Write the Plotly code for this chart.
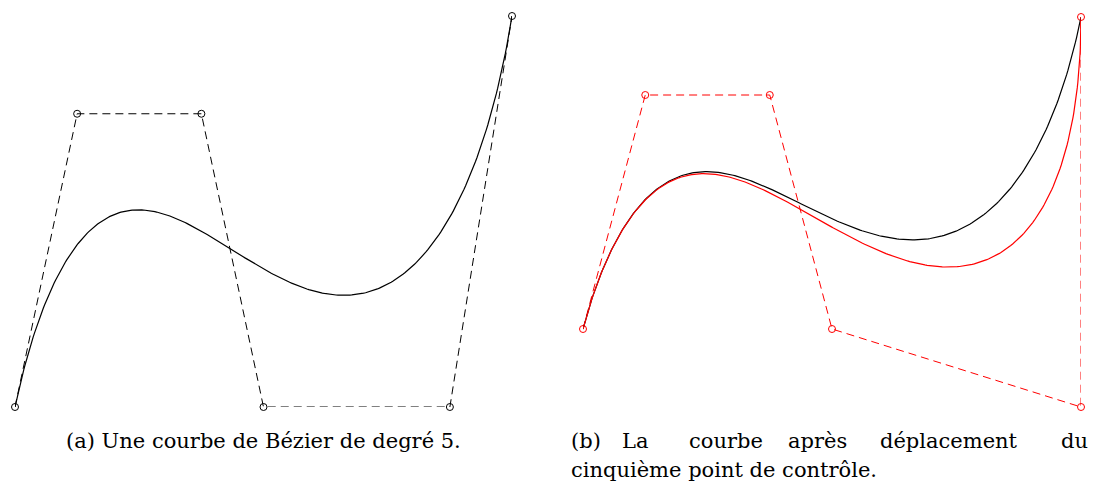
import numpy as np
import plotly.graph_objects as go
from math import comb

# Control points
ctrl_a_x = [0, 1, 3, 4, 7, 8]
ctrl_a_y = [0, 3, 3, 0, 0, 4]
ctrl_b_x = [0, 1, 3, 4, 8, 8]
ctrl_b_y = [0, 3, 3, 0, -1, 4]

caption_a = "(a) Une courbe de Bézier de degré 5."
caption_b_line1 = ["(b)", "La", "courbe", "après", "déplacement", "du"]
caption_b_line2 = "cinquième point de contrôle."


def bezier(xs, ys, n=300):
    t = np.linspace(0, 1, n)
    d = len(xs) - 1
    bx = np.zeros_like(t)
    by = np.zeros_like(t)
    for i in range(d + 1):
        b = comb(d, i) * t**i * (1 - t)**(d - i)
        bx += b * xs[i]
        by += b * ys[i]
    return bx, by


# page has an 8px body margin; size and positions compensate for it
OFF = 8
W, H = 1099 - OFF, 485 - OFF


def px(v):
    return (v - OFF) / W


def py(v):
    return 1 - (v - OFF) / H


fig = go.Figure()

ax, ay = bezier(ctrl_a_x, ctrl_a_y)
bx0, by0 = bezier(ctrl_a_x, ctrl_a_y)
bx1, by1 = bezier(ctrl_b_x, ctrl_b_y)

dash = "8px,5px"
# Panel (a)
fig.add_trace(go.Scatter(x=ctrl_a_x, y=ctrl_a_y, mode="lines+markers",
                         line=dict(color="black", width=1, dash=dash),
                         marker=dict(symbol="circle-open", size=7, color="black", line=dict(width=1)),
                         xaxis="x", yaxis="y", cliponaxis=False))
fig.add_trace(go.Scatter(x=ax, y=ay, mode="lines", line=dict(color="black", width=1.2),
                         xaxis="x", yaxis="y", cliponaxis=False))
# Panel (b)
fig.add_trace(go.Scatter(x=ctrl_b_x, y=ctrl_b_y, mode="lines+markers",
                         line=dict(color="red", width=1, dash=dash),
                         marker=dict(symbol="circle-open", size=7, color="red", line=dict(width=1)),
                         xaxis="x2", yaxis="y2", cliponaxis=False))
fig.add_trace(go.Scatter(x=bx0, y=by0, mode="lines", line=dict(color="black", width=1.2),
                         xaxis="x2", yaxis="y2", cliponaxis=False))
fig.add_trace(go.Scatter(x=bx1, y=by1, mode="lines", line=dict(color="red", width=1.2),
                         xaxis="x2", yaxis="y2", cliponaxis=False))

hidden = dict(visible=False, showgrid=False, zeroline=False)
fig.update_layout(
    width=W, height=H, margin=dict(l=0, r=0, t=0, b=0),
    plot_bgcolor="white", paper_bgcolor="white", showlegend=False,
    xaxis=dict(domain=[px(15), px(512)], range=[0, 8], **hidden),
    yaxis=dict(domain=[py(407), py(16)], range=[0, 4], **hidden),
    xaxis2=dict(domain=[px(583), px(1081)], range=[0, 8], **hidden),
    yaxis2=dict(domain=[py(407), py(17)], range=[-1, 4], anchor="x2", **hidden),
)

font = dict(family="DejaVu Serif", size=21, color="black")
fig.add_annotation(text=caption_a, x=px(263.5), y=py(441), xref="paper", yref="paper",
                   xanchor="center", yanchor="middle", showarrow=False, font=font)
word_x = [569, 620, 687, 786, 878, 1090]
for i, (w, wx) in enumerate(zip(caption_b_line1, word_x)):
    last = i == len(caption_b_line1) - 1
    fig.add_annotation(text=w, x=px(wx), y=py(441), xref="paper", yref="paper",
                       xanchor="right" if last else "left", yanchor="middle",
                       showarrow=False, font=font)
fig.add_annotation(text=caption_b_line2, x=px(569), y=py(470), xref="paper", yref="paper",
                   xanchor="left", yanchor="middle", showarrow=False, font=font)

fig.write_html("out.html")
